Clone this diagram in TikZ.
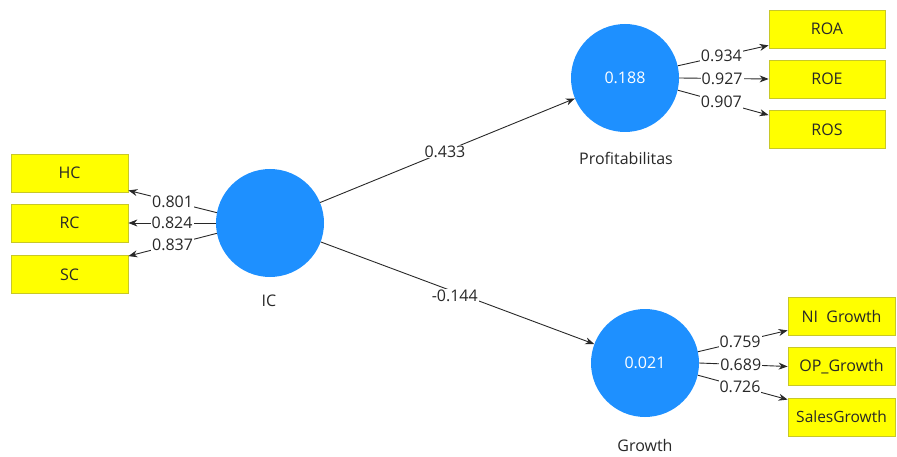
\documentclass[tikz,border=0pt]{standalone}
\usepackage{fontspec}
\setmainfont{Open Sans}
\usetikzlibrary{arrows.meta}
\definecolor{lvblue}{RGB}{30,144,255}
\definecolor{mvyellow}{RGB}{255,255,0}
\definecolor{mvborder}{RGB}{200,200,40}
\definecolor{txt}{RGB}{40,40,40}
\begin{document}
\begin{tikzpicture}[x=1pt,y=-1pt,font=\fontsize{16}{19}\selectfont,
  latent/.style={circle,fill=lvblue,draw=none,minimum size=108pt,inner sep=0pt,text=white},
  indicator/.style={rectangle,fill=mvyellow,draw=mvborder,line width=0.8pt,minimum height=38pt,inner sep=0pt,text=txt},
  link/.style={draw=txt,line width=0.9pt,-{Stealth[length=9pt,width=7pt]}},
  wlabel/.style={fill=white,inner sep=1pt,text=txt},
  caption/.style={text=txt}]
\useasboundingbox (0,0) rectangle (897,457);
% latent variables
\node[latent] (IC) at (270,223) {};
\node[latent] (Prof) at (625,78) {0.188};
\node[latent] (Gr) at (645,363) {0.021};
\node[caption] (ICl) at (269,301) {IC};
\node[caption] (Profl) at (626,158) {Profitabilitas};
\node[caption] (Grl) at (645,445) {Growth};
% indicators
\node[indicator,minimum width=117pt] (HC) at (69.5,173) {HC};
\node[indicator,minimum width=117pt] (RC) at (69.5,223) {RC};
\node[indicator,minimum width=117pt] (SC) at (69.5,274.5) {SC};
\node[indicator,minimum width=116pt] (ROA) at (827,29) {ROA};
\node[indicator,minimum width=116pt] (ROE) at (827,79) {ROE};
\node[indicator,minimum width=116pt] (ROS) at (827,129.5) {ROS};
\node[indicator,minimum width=107pt] (NI) at (841.5,316) {NI\ \ Growth};
\node[indicator,minimum width=107pt] (OP) at (841.5,366.5) {OP\_Growth};
\node[indicator,minimum width=107pt,font=\fontsize{15.5}{19}\selectfont] (SG) at (841.5,417) {SalesGrowth};
% outer loadings IC
\draw[link] (IC.169) -- node[wlabel,pos=0.5] {0.801} ([yshift=2pt]HC.south east);
\draw[link] (IC.west) -- node[wlabel,pos=0.5] {0.824} (RC.east);
\draw[link] (IC.191) -- node[wlabel,pos=0.5] {0.837} ([yshift=-1pt]SC.north east);
% outer loadings Profitabilitas
\draw[link] (Prof.13) -- node[wlabel,pos=0.48] {0.934} ([yshift=3pt]ROA.south west);
\draw[link] (Prof.east) -- node[wlabel,pos=0.48] {0.927} (ROE.west);
\draw[link] (Prof.-13) -- node[wlabel,pos=0.48] {0.907} ([yshift=-5pt]ROS.north west);
% outer loadings Growth
\draw[link] (Gr.12) -- node[wlabel,pos=0.47] {0.759} ([yshift=5pt]NI.south west);
\draw[link] (Gr.east) -- node[wlabel,pos=0.47] {0.689} (OP.west);
\draw[link] (Gr.-13) -- node[wlabel,pos=0.47] {0.726} ([yshift=-2pt]SG.north west);
% path coefficients
\draw[link] (IC) -- node[wlabel,pos=0.49] {0.433} (Prof);
\draw[link] (IC) -- node[wlabel,pos=0.49,yshift=-4pt] {-0.144} (Gr);
\end{tikzpicture}
\end{document}
